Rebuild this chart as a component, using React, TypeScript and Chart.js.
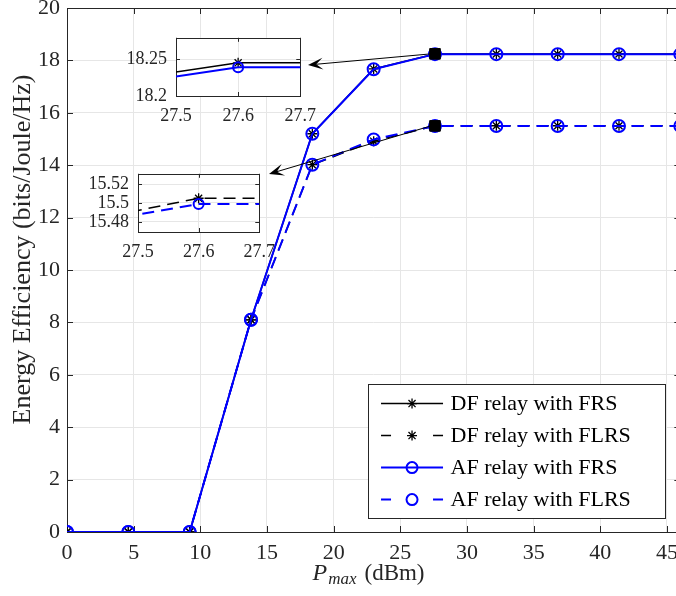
import React, { useEffect, useRef } from "react";
import { Chart, registerables } from "chart.js";

Chart.register(...registerables);

// ---------------- data ----------------
const pmaxDbm = [0, 4.6, 9.2, 13.8, 18.4, 23, 27.6, 32.2, 36.8, 41.4, 46];
const dfFRS = [0, 0, 0, 8.1, 15.2, 17.675, 18.245, 18.245, 18.245, 18.245, 18.245];
const dfFLRS = [0, 0, 0, 8.1, 14.02, 14.916, 15.505, 15.505, 15.505, 15.505, 15.505];
const afFRS = [0, 0, 0, 8.1, 15.2, 17.664, 18.239, 18.239, 18.239, 18.239, 18.239];
const afFLRS = [0, 0, 0, 8.1, 14.02, 14.984, 15.499, 15.499, 15.499, 15.499, 15.499];
const seriesLabels = ["DF relay with FRS", "DF relay with FLRS", "AF relay with FRS", "AF relay with FLRS"];

const zoomPointX = [27.6, 27.6];
const zoomPointY = [18.25, 15.5];

const xRange = [0, 46];
const yRange = [0, 20];
const xTickValues = [0, 5, 10, 15, 20, 25, 30, 35, 40, 45];
const yTickValues = [0, 2, 4, 6, 8, 10, 12, 14, 16, 18, 20];

const yAxisTitle = "Energy Efficiency (bits/Joule/Hz)";
const xAxisTitleVar = "P";
const xAxisTitleSub = "max";
const xAxisTitleUnit = "(dBm)";

const insetXRange = [27.5, 27.7];
const insetXTicks = [27.5, 27.6, 27.7];
const inset1YRange = [18.2, 18.279];
const inset1YTicks = [18.2, 18.25];
const inset2YRange = [15.4694, 15.5308];
const inset2YTicks = [15.48, 15.5, 15.52];

// ---------------- styles / layout ----------------
const FONT = "'Liberation Serif', 'Times New Roman', Times, serif";
const AXIS_COLOR = "#262626";
const GRID_COLOR = "#e6e6e6";
const BLUE = "#0000ff";
const BLACK = "#000000";
const DASH = [12, 7];

const seriesValues = [dfFRS, dfFLRS, afFRS, afFLRS];
const seriesStyles = [
  { color: BLACK, dash: [] as number[], marker: "star", width: 1.5 },
  { color: BLACK, dash: DASH, marker: "star", width: 1.5 },
  { color: BLUE, dash: [] as number[], marker: "circle", width: 2 },
  { color: BLUE, dash: DASH, marker: "circle", width: 2 },
];

const MAIN_W = 700;
const MAIN_H = 616;
const MAIN_OFF_Y = 20; // canvas shifted up by this many px
const PLOT_RIGHT = 680.33;

const INSET1 = { l: 176, t: 32, r: 303, b: 96 };
const INSET2 = { l: 138, t: 168, r: 262, b: 232 };
const IN_PAD = { l: 64, t: 14, r: 22, b: 34 };

const ARROW_TIPS = [
  { x: INSET1.r + 5, y: INSET1.t + 33 },
  { x: INSET2.r + 7, y: INSET2.t + 6 },
];

function drawStar(ctx: CanvasRenderingContext2D, x: number, y: number, r: number, color: string, lw: number) {
  ctx.save();
  ctx.strokeStyle = color;
  ctx.lineWidth = lw;
  ctx.setLineDash([]);
  ctx.beginPath();
  for (let k = 0; k < 4; k++) {
    const a = (k * Math.PI) / 4;
    ctx.moveTo(x - r * Math.cos(a), y - r * Math.sin(a));
    ctx.lineTo(x + r * Math.cos(a), y + r * Math.sin(a));
  }
  ctx.stroke();
  ctx.restore();
}

function drawCircle(ctx: CanvasRenderingContext2D, x: number, y: number, r: number, color: string, lw: number) {
  ctx.save();
  ctx.strokeStyle = color;
  ctx.lineWidth = lw;
  ctx.setLineDash([]);
  ctx.beginPath();
  ctx.arc(x, y, r, 0, Math.PI * 2);
  ctx.stroke();
  ctx.restore();
}

function drawArrow(ctx: CanvasRenderingContext2D, x0: number, y0: number, x1: number, y1: number) {
  const dx = x1 - x0;
  const dy = y1 - y0;
  const len = Math.hypot(dx, dy);
  const ux = dx / len;
  const uy = dy / len;
  const nx = -uy;
  const ny = ux;
  const L = 15;
  const W = 6;
  const N = 0.55;
  ctx.save();
  ctx.strokeStyle = BLACK;
  ctx.fillStyle = BLACK;
  ctx.lineWidth = 1;
  ctx.setLineDash([]);
  ctx.beginPath();
  ctx.moveTo(x0, y0);
  ctx.lineTo(x1 - ux * L * N, y1 - uy * L * N);
  ctx.stroke();
  ctx.beginPath();
  ctx.moveTo(x1, y1);
  ctx.lineTo(x1 - ux * L + nx * W, y1 - uy * L + ny * W);
  ctx.lineTo(x1 - ux * L * N, y1 - uy * L * N);
  ctx.lineTo(x1 - ux * L - nx * W, y1 - uy * L - ny * W);
  ctx.closePath();
  ctx.fill();
  ctx.restore();
}

function buildDatasets(starR: number, circR: number) {
  return seriesValues.map((vals, i) => {
    const st = seriesStyles[i];
    return {
      label: seriesLabels[i],
      data: pmaxDbm.map((x, j) => ({ x, y: vals[j] })),
      borderColor: st.color,
      borderWidth: st.width,
      borderDash: st.dash,
      pointStyle: st.marker === "star" ? "star" : "circle",
      pointRadius: st.marker === "star" ? starR : circR,
      pointBorderWidth: st.marker === "star" ? 1.3 : 2,
      pointBorderColor: st.color,
      pointBackgroundColor: "rgba(0,0,0,0)",
      pointHoverRadius: 0,
      fill: false,
      tension: 0,
      order: 4 - i,
    } as any;
  });
}

const framePlugin = (tickLen: number, whiteBg: boolean) => ({
  id: "frame",
  beforeDraw(chart: any) {
    if (!whiteBg) return;
    const { ctx, chartArea: a } = chart;
    ctx.save();
    ctx.fillStyle = "#ffffff";
    ctx.fillRect(a.left, a.top, a.right - a.left, a.bottom - a.top);
    ctx.restore();
  },
  beforeDatasetsDraw(chart: any) {
    const { ctx, chartArea: a, scales } = chart;
    ctx.save();
    ctx.strokeStyle = AXIS_COLOR;
    ctx.lineWidth = 1;
    ctx.setLineDash([]);
    ctx.beginPath();
    for (const t of scales.x.ticks) {
      const px = Math.round(scales.x.getPixelForValue(t.value)) + 0.5;
      ctx.moveTo(px, a.bottom);
      ctx.lineTo(px, a.bottom - tickLen);
      ctx.moveTo(px, a.top);
      ctx.lineTo(px, a.top + tickLen);
    }
    for (const t of scales.y.ticks) {
      const py = Math.round(scales.y.getPixelForValue(t.value)) + 0.5;
      ctx.moveTo(a.left, py);
      ctx.lineTo(a.left + tickLen, py);
      ctx.moveTo(a.right, py);
      ctx.lineTo(a.right - tickLen, py);
    }
    ctx.stroke();
    ctx.strokeRect(
      Math.round(a.left) + 0.5,
      Math.round(a.top) + 0.5,
      Math.round(a.right - a.left),
      Math.round(a.bottom - a.top)
    );
    ctx.restore();
  },
});

const overlayPlugin = {
  id: "overlay",
  afterDraw(chart: any) {
    const { ctx, chartArea: a, scales } = chart;
    // arrows from zoom markers to insets
    zoomPointX.forEach((zx, i) => {
      const sx = scales.x.getPixelForValue(zx);
      const sy = scales.y.getPixelForValue(zoomPointY[i]);
      drawArrow(ctx, sx - 4, sy, ARROW_TIPS[i].x, ARROW_TIPS[i].y + MAIN_OFF_Y);
    });

    // legend
    const lw = 297;
    const lh = 134;
    const left = a.right - 15.3 - lw;
    const top = a.bottom - 13.7 - lh;
    ctx.save();
    ctx.fillStyle = "#ffffff";
    ctx.fillRect(left, top, lw, lh);
    ctx.strokeStyle = AXIS_COLOR;
    ctx.lineWidth = 1;
    ctx.strokeRect(Math.round(left) + 0.5, Math.round(top) + 0.5, lw, lh);
    seriesLabels.forEach((lab, i) => {
      const st = seriesStyles[i];
      const y = top + 19.3 + i * 32;
      const x0 = left + 13;
      const x1 = left + 75;
      const xm = left + 44;
      ctx.strokeStyle = st.color;
      ctx.lineWidth = st.width;
      ctx.beginPath();
      if (st.dash.length) {
        ctx.moveTo(x0, y);
        ctx.lineTo(x0 + 10, y);
        ctx.moveTo(x1 - 10, y);
        ctx.lineTo(x1, y);
      } else {
        ctx.moveTo(x0, y);
        ctx.lineTo(x1, y);
      }
      ctx.stroke();
      if (st.marker === "star") drawStar(ctx, xm, y, 5, st.color, 1.3);
      else drawCircle(ctx, xm, y, 5.5, st.color, 2);
      ctx.fillStyle = BLACK;
      ctx.font = `22px ${FONT}`;
      ctx.textAlign = "left";
      ctx.textBaseline = "middle";
      ctx.fillText(lab, left + 82.5, y + 1);
    });
    ctx.restore();

    // y title
    ctx.save();
    ctx.fillStyle = AXIS_COLOR;
    ctx.font = `26px ${FONT}`;
    ctx.translate(30, 249.5 + MAIN_OFF_Y);
    ctx.rotate(-Math.PI / 2);
    ctx.textAlign = "center";
    ctx.textBaseline = "alphabetic";
    ctx.fillText(yAxisTitle, 0, 0);
    ctx.restore();

    // x title  P_max (dBm)
    ctx.save();
    ctx.fillStyle = AXIS_COLOR;
    ctx.textBaseline = "alphabetic";
    ctx.textAlign = "left";
    const fMain = `italic 24px ${FONT}`;
    const fSub = `italic 17px ${FONT}`;
    const fUnit = `23px ${FONT}`;
    ctx.font = fMain;
    const wP = ctx.measureText(xAxisTitleVar).width;
    ctx.font = fSub;
    const wS = ctx.measureText(xAxisTitleSub).width;
    ctx.font = fUnit;
    const wU = ctx.measureText(xAxisTitleUnit).width;
    const gap = 8;
    const total = wP + 1 + wS + gap + wU;
    let x = 368.5 - total / 2;
    const base = 580 + MAIN_OFF_Y;
    ctx.font = fMain;
    ctx.fillText(xAxisTitleVar, x, base);
    x += wP + 1;
    ctx.font = fSub;
    ctx.fillText(xAxisTitleSub, x, base + 4);
    x += wS + gap;
    ctx.font = fUnit;
    ctx.fillText(xAxisTitleUnit, x, base);
    ctx.restore();
  },
};

function makeMain(canvas: HTMLCanvasElement) {
  const datasets = buildDatasets(5, 6);
  datasets.push({
    label: "zoom",
    data: zoomPointX.map((x, i) => ({ x, y: zoomPointY[i] })),
    showLine: false,
    pointStyle: "rect",
    pointRadius: 7.5,
    pointBackgroundColor: BLACK,
    pointBorderColor: BLACK,
    pointBorderWidth: 1,
    pointHoverRadius: 0,
    order: 0,
  } as any);
  return new Chart(canvas, {
    type: "line",
    data: { datasets },
    options: {
      animation: false,
      responsive: false,
      devicePixelRatio: 1,
      events: [],
      layout: { padding: { top: 28, right: MAIN_W - PLOT_RIGHT, left: 0, bottom: 0 } },
      plugins: { legend: { display: false }, tooltip: { enabled: false }, title: { display: false } },
      scales: {
        x: {
          type: "linear",
          min: xRange[0],
          max: xRange[1],
          afterBuildTicks: (s: any) => {
            s.ticks = xTickValues.map((v) => ({ value: v }));
          },
          afterFit: (s: any) => {
            s.height = 64;
          },
          ticks: {
            font: { family: FONT, size: 22 },
            color: AXIS_COLOR,
            padding: 8,
            maxRotation: 0,
            autoSkip: false,
            callback: (v: any) => String(v),
          },
          grid: { color: GRID_COLOR, lineWidth: 1, drawTicks: false },
          border: { display: false },
        },
        y: {
          type: "linear",
          min: yRange[0],
          max: yRange[1],
          afterBuildTicks: (s: any) => {
            s.ticks = yTickValues.map((v) => ({ value: v }));
          },
          afterFit: (s: any) => {
            s.width = 67;
          },
          ticks: {
            font: { family: FONT, size: 22 },
            color: AXIS_COLOR,
            padding: 7,
            autoSkip: false,
            callback: (v: any) => String(v),
          },
          grid: { color: GRID_COLOR, lineWidth: 1, drawTicks: false },
          border: { display: false },
        },
      },
    } as any,
    plugins: [framePlugin(6, false), overlayPlugin],
  });
}

function makeInset(canvas: HTMLCanvasElement, yR: number[], yTicks: number[]) {
  return new Chart(canvas, {
    type: "line",
    data: { datasets: buildDatasets(5, 5) },
    options: {
      animation: false,
      responsive: false,
      devicePixelRatio: 1,
      events: [],
      layout: { padding: { top: IN_PAD.t, right: IN_PAD.r, left: 0, bottom: 0 } },
      plugins: { legend: { display: false }, tooltip: { enabled: false } },
      scales: {
        x: {
          type: "linear",
          min: insetXRange[0],
          max: insetXRange[1],
          afterBuildTicks: (s: any) => {
            s.ticks = insetXTicks.map((v) => ({ value: v }));
          },
          afterFit: (s: any) => {
            s.height = IN_PAD.b;
          },
          ticks: {
            font: { family: FONT, size: 18 },
            color: AXIS_COLOR,
            padding: 9,
            maxRotation: 0,
            autoSkip: false,
            callback: (v: any) => Number(v).toFixed(1),
          },
          grid: { color: GRID_COLOR, lineWidth: 1, drawTicks: false },
          border: { display: false },
        },
        y: {
          type: "linear",
          min: yR[0],
          max: yR[1],
          afterBuildTicks: (s: any) => {
            s.ticks = yTicks.map((v) => ({ value: v }));
          },
          afterFit: (s: any) => {
            s.width = IN_PAD.l;
          },
          ticks: {
            font: { family: FONT, size: 18 },
            color: AXIS_COLOR,
            padding: 9,
            autoSkip: false,
            callback: (v: any) => String(Number(v)),
          },
          grid: { color: GRID_COLOR, lineWidth: 1, drawTicks: false },
          border: { display: false },
        },
      },
    } as any,
    plugins: [framePlugin(4, true)],
  });
}

function insetStyle(b: { l: number; t: number; r: number; b: number }) {
  const w = b.r - b.l + IN_PAD.l + IN_PAD.r;
  const h = b.b - b.t + IN_PAD.t + IN_PAD.b;
  return {
    w,
    h,
    style: { position: "absolute" as const, left: b.l - IN_PAD.l, top: b.t - IN_PAD.t, width: w, height: h },
  };
}

export default function App() {
  const mainRef = useRef<HTMLCanvasElement>(null);
  const in1Ref = useRef<HTMLCanvasElement>(null);
  const in2Ref = useRef<HTMLCanvasElement>(null);

  useEffect(() => {
    const charts: Chart[] = [];
    if (mainRef.current) charts.push(makeMain(mainRef.current));
    if (in1Ref.current) charts.push(makeInset(in1Ref.current, inset1YRange, inset1YTicks));
    if (in2Ref.current) charts.push(makeInset(in2Ref.current, inset2YRange, inset2YTicks));
    return () => charts.forEach((c) => c.destroy());
  }, []);

  const s1 = insetStyle(INSET1);
  const s2 = insetStyle(INSET2);

  return (
    <div
      style={{
        position: "absolute",
        left: 0,
        top: 0,
        width: 676,
        height: 596,
        overflow: "hidden",
        background: "#ffffff",
      }}
    >
      <canvas
        ref={mainRef}
        width={MAIN_W}
        height={MAIN_H}
        style={{ position: "absolute", left: 0, top: -MAIN_OFF_Y, width: MAIN_W, height: MAIN_H }}
      />
      <canvas ref={in1Ref} width={s1.w} height={s1.h} style={s1.style} />
      <canvas ref={in2Ref} width={s2.w} height={s2.h} style={s2.style} />
    </div>
  );
}
